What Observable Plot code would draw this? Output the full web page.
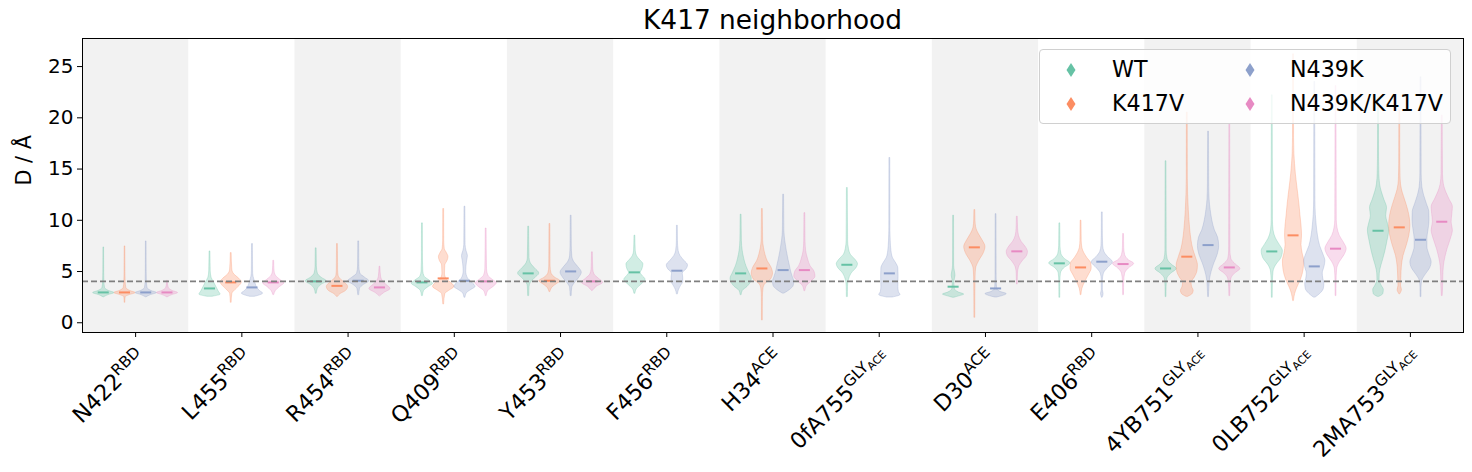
<!DOCTYPE html>
<html>
<head>
<meta charset="utf-8">
<script src="https://cdn.jsdelivr.net/npm/d3@7"></script>
<script src="https://cdn.jsdelivr.net/npm/@observablehq/plot@0.6"></script>
<style>
  html, body { margin: 0; padding: 0; background: #fff; }
  #wrap { position: relative; width: 1472px; height: 472px; font-family: "DejaVu Sans", sans-serif; color: #000; }
  #title { position: absolute; left: 82px; width: 1381px; top: 7px; text-align: center; font-size: 26.4px; line-height: 26.4px; white-space: nowrap; }
  #legend { position: absolute; left: 1039px; top: 49px; width: 410px; height: 73px; background: rgba(255,255,255,0.8); border: 1px solid #d0d0d0; border-radius: 4px; font-size: 22.2px; }
  .item { position: absolute; white-space: nowrap; line-height: 22.2px; }
  .sw { position: absolute; }
</style>
</head>
<body>
<div id="wrap">
  <div id="chart"></div>
  <div id="title">K417 neighborhood</div>
  <div id="legend"></div>
</div>
<script>
// ---------- data ----------
const residues   = ["N422","L455","R454","Q409","Y453","F456","H34","0fA755","D30","E406","4YB751","0LB752","2MA753"];
const labelSup   = ["RBD","RBD","RBD","RBD","RBD","RBD","ACE","GLY","ACE","RBD","GLY","GLY","GLY"];
const labelSub   = [null,null,null,null,null,null,null,"ACE",null,null,"ACE","ACE","ACE"];
const variants   = ["WT","K417V","N439K","N439K/K417V"];
const colors     = ["#66c2a5","#fc8d62","#8da0cb","#e78ac3"];
const yTicks     = [0,5,10,15,20,25];
const threshold  = 4.04;

// medians per variant, one value per residue (null = not simulated)
const medianWT     = [2.96,3.35,4.04,3.94,4.82,4.92,4.82,5.66,3.52,5.80,5.30,6.96,8.98];
const medianK417V  = [2.96,3.94,3.60,4.33,4.10,null,5.30,null,7.36,5.40,6.45,8.53,9.31];
const medianN439K  = [2.96,3.45,4.10,4.10,5.01,5.08,5.14,4.82,3.35,5.96,7.58,5.50,8.10];
const medianDouble = [2.96,3.94,3.45,4.04,4.04,null,5.14,null,6.97,5.73,5.40,7.23,9.86];

// violin outlines: [distance, relative density] per variant (WT, K417V, N439K, N439K/K417V)
const violinN422 = [
  [[2.5,0.05],[2.7,0.45],[2.9,1],[3.1,0.5],[3.4,0.12],[4,0.06],[5,0.04],[7.35,0.03]],
  [[1.98,0.03],[2.5,0.06],[2.7,0.45],[2.9,1],[3.1,0.5],[3.4,0.12],[4,0.06],[5,0.04],[7.45,0.03]],
  [[2.5,0.05],[2.7,0.45],[2.9,1],[3.1,0.5],[3.4,0.12],[4,0.06],[5,0.04],[7.94,0.03]],
  [[2.5,0.05],[2.7,0.45],[2.9,1],[3.1,0.5],[3.4,0.12],[3.8,0.05],[4.1,0.03]]
];
const violinL455 = [
  [[2.54,0.25],[2.75,1],[3.0,0.85],[3.5,0.6],[4.0,0.35],[4.4,0.15],[5,0.07],[6.96,0.04]],
  [[1.98,0.04],[2.8,0.1],[3.2,0.4],[3.6,0.8],[3.95,1],[4.3,0.75],[4.7,0.3],[5.2,0.1],[6.8,0.04]],
  [[2.54,0.25],[2.85,1],[3.1,0.7],[3.5,0.4],[4.0,0.25],[4.5,0.1],[5,0.06],[7.68,0.04]],
  [[2.73,0.05],[3.1,0.2],[3.5,0.6],[3.85,1],[4.2,0.6],[4.6,0.2],[5,0.08],[6.05,0.04]]
];
const violinR454 = [
  [[2.86,0.05],[3.3,0.15],[3.7,0.5],[4.04,1],[4.4,0.5],[4.8,0.15],[5.5,0.06],[7.26,0.04]],
  [[2.54,0.05],[2.8,0.3],[3.1,0.8],[3.5,1],[3.9,0.7],[4.2,0.35],[4.6,0.1],[5.2,0.06],[7.68,0.04]],
  [[2.73,0.05],[3.3,0.12],[3.7,0.5],[4.05,1],[4.4,0.6],[4.8,0.15],[5.5,0.06],[7.94,0.04]],
  [[2.6,0.05],[2.9,0.4],[3.3,1],[3.7,0.6],[4.1,0.25],[4.5,0.1],[5.47,0.04]]
];
const violinQ409 = [
  [[2.64,0.05],[3.1,0.15],[3.5,0.6],[3.8,1],[4.1,0.7],[4.5,0.2],[5,0.08],[6,0.05],[9.7,0.04]],
  [[1.82,0.04],[2.8,0.15],[3.1,0.5],[3.5,1],[3.9,0.7],[4.2,0.3],[4.8,0.12],[5.6,0.15],[6.0,0.35],[6.4,0.45],[6.8,0.3],[7.2,0.1],[8,0.05],[11.1,0.04]],
  [[2.47,0.05],[2.9,0.2],[3.2,0.6],[3.5,1],[3.9,0.7],[4.3,0.3],[5,0.12],[6,0.2],[6.5,0.28],[7,0.15],[7.6,0.06],[11.33,0.04]],
  [[2.64,0.05],[3.1,0.2],[3.5,0.7],[3.85,1],[4.2,0.6],[4.6,0.2],[5.2,0.08],[9.2,0.04]]
];
const violinY453 = [
  [[2.64,0.05],[3.5,0.08],[3.9,0.2],[4.3,0.55],[4.8,1],[5.3,0.6],[5.8,0.2],[6.3,0.08],[9.38,0.04]],
  [[3.03,0.05],[3.5,0.3],[3.8,0.7],[4.05,1],[4.4,0.5],[4.8,0.15],[5.5,0.06],[9.64,0.04]],
  [[2.64,0.05],[3.4,0.1],[3.8,0.3],[4.3,0.7],[4.9,1],[5.4,0.7],[5.9,0.3],[6.5,0.1],[7.5,0.06],[10.45,0.04]],
  [[3.12,0.05],[3.5,0.4],[3.9,1],[4.3,0.6],[4.7,0.2],[5.2,0.08],[6.87,0.04]]
];
const violinF456 = [
  [[2.86,0.05],[3.3,0.2],[3.7,0.6],[4.2,1],[4.6,0.7],[4.85,0.55],[5.2,0.7],[5.7,0.8],[6.1,0.5],[6.5,0.2],[7,0.08],[8.5,0.04]],
  null,
  [[2.8,0.05],[3.2,0.15],[3.6,0.35],[4.0,0.55],[4.4,0.55],[4.8,0.5],[5.2,0.85],[5.6,1],[6.0,0.7],[6.5,0.3],[7,0.12],[8,0.05],[9.47,0.04]],
  null
];
const violinH34 = [
  [[2.73,0.05],[3.1,0.15],[3.5,0.6],[4.0,0.95],[4.3,1],[4.8,0.8],[5.5,0.5],[6.2,0.3],[7,0.15],[8,0.07],[10.55,0.04]],
  [[0.26,0.04],[2.5,0.05],[3.3,0.1],[3.8,0.3],[4.2,0.8],[4.8,1],[5.4,0.85],[6.0,0.5],[6.6,0.3],[7.3,0.15],[8,0.07],[11.1,0.04]],
  [[2.86,0.1],[3.2,0.6],[3.6,0.95],[4.0,1],[4.5,0.85],[5,0.7],[5.5,0.6],[6.2,0.45],[7,0.3],[8,0.15],[9,0.07],[12.5,0.04]],
  [[3.12,0.05],[3.6,0.2],[4.0,0.6],[4.5,1],[5.0,0.9],[5.5,0.55],[6.2,0.3],[7,0.12],[8,0.06],[10.7,0.04]]
];
const violin0fA755 = [
  [[2.54,0.05],[3.5,0.06],[4.2,0.15],[4.8,0.4],[5.4,0.9],[5.7,1],[6.1,0.8],[6.6,0.35],[7.2,0.15],[8,0.07],[13.15,0.04]],
  null,
  [[2.47,0.3],[2.7,1],[3.0,0.85],[3.5,0.8],[4.5,0.82],[5.3,0.8],[5.8,0.6],[6.3,0.3],[7,0.15],[8,0.08],[9,0.05],[16.08,0.04]],
  null
];
const violinD30 = [
  [[2.45,0.1],[2.6,0.6],[2.75,1],[2.95,0.5],[3.3,0.12],[4.0,0.08],[4.6,0.18],[5.0,0.12],[5.6,0.05],[10.45,0.04]],
  [[0.52,0.04],[3,0.05],[4.5,0.07],[5.3,0.12],[6.0,0.4],[6.8,0.85],[7.4,1],[8.0,0.75],[8.7,0.35],[9.3,0.12],[10,0.06],[11,0.04]],
  [[2.47,0.1],[2.6,0.6],[2.8,1],[3.0,0.45],[3.3,0.1],[4,0.06],[4.8,0.05],[10.6,0.04]],
  [[3.78,0.04],[4.8,0.06],[5.4,0.15],[6.0,0.5],[6.5,0.9],[6.9,1],[7.3,0.85],[7.9,0.4],[8.5,0.15],[9.2,0.07],[10.35,0.04]]
];
const violinE406 = [
  [[2.47,0.04],[4,0.05],[4.8,0.1],[5.3,0.4],[5.8,1],[6.2,0.5],[6.7,0.15],[7.5,0.06],[9.7,0.04]],
  [[2.73,0.04],[3.3,0.12],[4.0,0.4],[4.6,0.7],[5.3,1],[5.8,0.95],[6.3,0.6],[6.8,0.3],[7.3,0.12],[8,0.06],[9.96,0.04]],
  [[2.47,0.04],[2.8,0.12],[3.2,0.05],[4.2,0.06],[4.8,0.15],[5.3,0.5],[5.9,1],[6.4,0.55],[6.9,0.2],[7.5,0.08],[8.5,0.05],[10.77,0.04]],
  [[2.73,0.04],[4,0.06],[4.8,0.15],[5.3,0.5],[5.75,1],[6.1,0.5],[6.6,0.15],[7.3,0.06],[8.66,0.04]]
];
const violin4YB751 = [
  [[2.54,0.04],[3.5,0.05],[4.3,0.12],[4.8,0.5],[5.25,1],[5.7,0.5],[6.2,0.15],[7,0.06],[15.76,0.04]],
  [[2.54,0.1],[2.8,0.5],[3.1,0.6],[3.5,0.45],[3.9,0.4],[4.4,0.7],[5,0.95],[5.6,1],[6.4,0.8],[7.2,0.55],[8,0.4],[9,0.28],[10,0.2],[11,0.14],[12.5,0.08],[14,0.05],[20.5,0.04]],
  [[2.54,0.04],[3.5,0.08],[4.3,0.15],[5,0.3],[5.8,0.55],[6.6,0.85],[7.5,1],[8.3,0.9],[9,0.6],[10,0.35],[11,0.2],[12,0.1],[13.5,0.06],[18.65,0.04]],
  [[2.64,0.04],[3.5,0.06],[4.3,0.15],[4.8,0.5],[5.25,1],[5.7,0.55],[6.2,0.15],[7,0.06],[19.4,0.04]]
];
const violin0LB752 = [
  [[2.47,0.04],[4,0.06],[5,0.12],[5.6,0.35],[6.3,0.85],[7,1],[7.6,0.7],[8.2,0.35],[9,0.12],[10,0.06],[22.2,0.04]],
  [[2.15,0.04],[2.8,0.15],[3.4,0.35],[4.2,0.7],[5.2,0.95],[6,1],[6.8,0.85],[7.6,0.75],[8.5,0.8],[9.5,0.75],[10.5,0.65],[11.5,0.56],[12.5,0.45],[13.5,0.33],[14.5,0.22],[15.5,0.14],[16.5,0.08],[18,0.05],[26.2,0.04]],
  [[2.47,0.1],[2.8,0.5],[3.3,0.85],[3.8,0.9],[4.3,0.8],[4.8,0.75],[5.4,0.9],[6,1],[6.7,0.8],[7.5,0.5],[8.5,0.3],[9.5,0.18],[10.5,0.1],[12,0.06],[23.5,0.04]],
  [[2.64,0.04],[4,0.05],[5.2,0.1],[5.9,0.35],[6.6,0.8],[7.2,1],[7.8,0.75],[8.5,0.35],[9.2,0.15],[10,0.07],[23.1,0.04]]
];
const violin2MA753 = [
  [[2.54,0.1],[2.8,0.45],[3.2,0.5],[3.6,0.3],[4.2,0.1],[4.8,0.12],[5.5,0.25],[6.2,0.45],[7,0.65],[8,0.85],[9,1],[9.8,0.85],[10.4,0.72],[11.2,0.8],[12,0.55],[12.8,0.3],[13.5,0.15],[14.5,0.08],[16,0.05],[22,0.04]],
  [[2.8,0.05],[3.2,0.2],[3.6,0.12],[4.5,0.15],[5.5,0.2],[6.5,0.35],[7.5,0.65],[8.5,0.9],[9.5,1],[10.5,0.9],[11.5,0.65],[12.3,0.4],[13,0.2],[14,0.08],[15.5,0.05],[20.7,0.04]],
  [[2.54,0.04],[3.5,0.05],[4.1,0.12],[4.7,0.45],[5.3,0.85],[5.9,1],[6.6,0.8],[7.4,0.6],[8.2,0.6],[9,0.7],[10,0.8],[10.8,0.78],[11.6,0.55],[12.4,0.3],[13.2,0.13],[14.5,0.06],[23.95,0.04]],
  [[2.64,0.04],[3.5,0.08],[4.5,0.1],[5.5,0.15],[6.3,0.28],[7.2,0.5],[8.2,0.82],[9,1],[9.8,0.88],[10.6,0.95],[11.3,1],[12,0.7],[12.8,0.35],[13.5,0.15],[14.5,0.07],[20.2,0.04]]
];

// ---------- assembly ----------
const violinSets = [violinN422, violinL455, violinR454, violinQ409, violinY453, violinF456, violinH34,
                    violin0fA755, violinD30, violinE406, violin4YB751, violin0LB752, violin2MA753];
const medianSets = [medianWT, medianK417V, medianN439K, medianDouble];
const offsets = [-0.3, -0.1, 0.1, 0.3];   // slot of each variant inside a residue band
const halfW = 0.1;                         // half width of a violin at its densest point
const medHalf = 0.052;
const yDomain = [-0.95, 27.74];

const rows = [];
violinSets.forEach((set, i) => set.forEach((prof, j) => {
  if (!prof) return;
  prof.forEach(([v, d]) => rows.push({i, j, v, d, variant: variants[j], key: i + "-" + j}));
}));
const medRows = [];
medianSets.forEach((arr, j) => arr.forEach((m, i) => {
  if (m != null) medRows.push({i, j, m, variant: variants[j]});
}));
const shaded = d3.range(0, residues.length, 2);

const H = 472, MB = 140;
const chart = Plot.plot({
  width: 1472, height: H,
  marginTop: 38, marginBottom: MB, marginLeft: 82, marginRight: 9,
  style: {fontFamily: "DejaVu Sans, sans-serif", fontSize: "20px", background: "transparent", color: "#000"},
  x: {domain: [-0.5, residues.length - 0.5]},
  y: {domain: yDomain},
  color: {domain: variants, range: colors},
  marks: [
    Plot.rect(shaded, {x1: i => i - 0.5, x2: i => i + 0.5, y1: yDomain[0], y2: yDomain[1], fill: "#f2f2f2"}),
    Plot.areaX(rows, {
      y: "v",
      x1: d => d.i + offsets[d.j] - d.d * halfW,
      x2: d => d.i + offsets[d.j] + d.d * halfW,
      z: "key", fill: "variant", fillOpacity: 0.3,
      stroke: "variant", strokeOpacity: 0.3, strokeWidth: 1,
      curve: "monotone-y"
    }),
    Plot.ruleY(medRows, {
      y: "m",
      x1: d => d.i + offsets[d.j] - medHalf,
      x2: d => d.i + offsets[d.j] + medHalf,
      stroke: "variant", strokeWidth: 2
    }),
    Plot.ruleY([threshold], {stroke: "#7f7f7f", strokeWidth: 1.8, strokeDasharray: "6,3"}),
    Plot.axisY({ticks: yTicks, tickSize: 5, tickPadding: 4, fontSize: 20, label: null}),
    Plot.axisX({ticks: d3.range(residues.length), tickFormat: i => residues[i],
                tickSize: 5, fontSize: 22.2, label: null}),
    Plot.text(["D / Å"], {frameAnchor: "left", dx: -58, rotate: -90, fontSize: 20.8, fill: "#000", ariaLabel: "y-label"}),
    Plot.frame({stroke: "#000", strokeWidth: 1})
  ]
});
document.getElementById("chart").appendChild(chart);

const NS = "http://www.w3.org/2000/svg";

// ---------- y label with italic Å ----------
const yl = chart.querySelector('g[aria-label="y-label"] text');
if (yl) {
  yl.textContent = "";
  const p1 = document.createElementNS(NS, "tspan"); p1.textContent = "D / "; yl.appendChild(p1);
  const p2 = document.createElementNS(NS, "tspan"); p2.textContent = "Å"; p2.setAttribute("font-style", "italic"); yl.appendChild(p2);
}

// ---------- rich x tick labels (superscript / nested subscript), rotated 45° ----------
const xs = chart.scale("x");
const frameBottom = H - MB;
const LDX = 12, LDY = 27;
const tickGroup = chart.querySelector('g[aria-label="x-axis tick label"]');
if (tickGroup) {
  tickGroup.removeAttribute("transform");
  [...tickGroup.querySelectorAll("text")].forEach(t => {
    const i = residues.indexOf(t.textContent.trim());
    if (i < 0) return;
    const x = xs.apply(i);
    const nt = document.createElementNS(NS, "text");
    nt.setAttribute("text-anchor", "end");
    nt.setAttribute("font-size", "22.2");
    nt.setAttribute("fill", "#000");
    nt.setAttribute("transform", `translate(${x + LDX},${frameBottom + LDY}) rotate(-45)`);
    const a = document.createElementNS(NS, "tspan");
    a.textContent = residues[i];
    nt.appendChild(a);
    const b = document.createElementNS(NS, "tspan");
    b.textContent = labelSup[i];
    b.setAttribute("font-size", "15.5");
    b.setAttribute("dy", "-8.5");
    nt.appendChild(b);
    if (labelSub[i]) {
      const c = document.createElementNS(NS, "tspan");
      c.textContent = labelSub[i];
      c.setAttribute("font-size", "10.9");
      c.setAttribute("dy", "3.2");
      nt.appendChild(c);
    }
    t.replaceWith(nt);
  });
}

// ---------- legend ----------
const legend = document.getElementById("legend");
const legendPos = [[31, 20, 72, 8], [31, 54, 72, 42], [210, 20, 250, 8], [210, 54, 250, 42]]; // swatch cx, cy, text left, text top
variants.forEach((v, j) => {
  const [cx, cy, tx, ty] = legendPos[j];
  const sw = document.createElementNS(NS, "svg");
  sw.setAttribute("class", "sw");
  sw.setAttribute("width", 12); sw.setAttribute("height", 16);
  sw.style.left = (cx - 6) + "px"; sw.style.top = (cy - 8) + "px";
  const p = document.createElementNS(NS, "polygon");
  p.setAttribute("points", "6,1 10.5,8 6,15 1.5,8");
  p.setAttribute("fill", colors[j]);
  sw.appendChild(p);
  legend.appendChild(sw);
  const lab = document.createElement("div");
  lab.className = "item";
  lab.style.left = tx + "px"; lab.style.top = ty + "px";
  lab.textContent = v;
  legend.appendChild(lab);
});
</script>
</body>
</html>
